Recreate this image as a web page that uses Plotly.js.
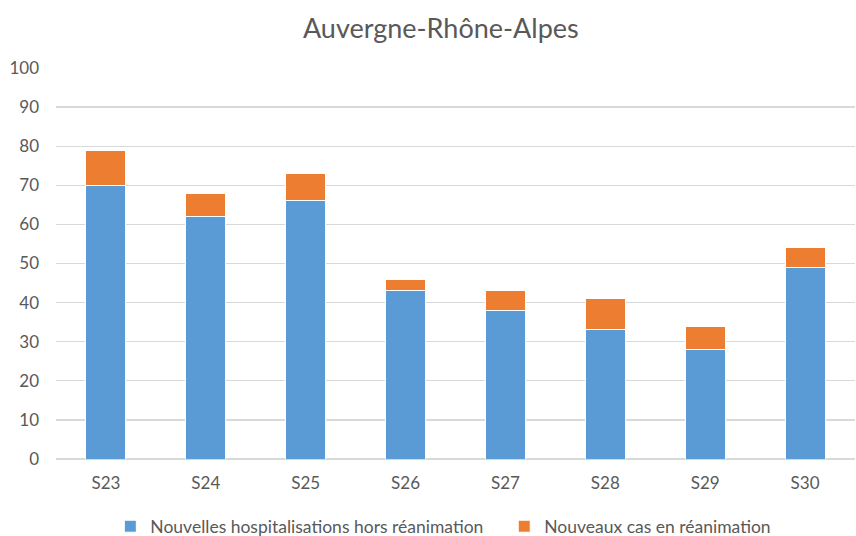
<!DOCTYPE html>
<html>
<head>
<meta charset="utf-8">
<script src="https://cdn.plot.ly/plotly-3.0.1.min.js"></script>
<style>html,body{margin:0;padding:0;background:#fff;}#chart{width:856px;height:536px;}</style>
</head>
<body>
<div id="chart"></div>
<script>
const categories = ["S23","S24","S25","S26","S27","S28","S29","S30"];
const hospitalisations = [70, 62, 66, 43, 38, 33, 28, 49];
const reanimation = [9, 6, 7, 3, 5, 8, 6, 5];
const seriesNames = ["Nouvelles hospitalisations hors réanimation", "Nouveaux cas en réanimation"];
const yTicks = [0,10,20,30,40,50,60,70,80,90,100];

const font = "Lato, 'Open Sans', sans-serif";
const traces = [
  {type:"bar", name:seriesNames[0], x:categories, y:hospitalisations, legend:"legend",
   marker:{color:"#5b9bd5", line:{color:"#ffffff", width:1}}},
  {type:"bar", name:seriesNames[1], x:categories, y:reanimation, legend:"legend2",
   marker:{color:"#ed7d31", line:{color:"#ffffff", width:1}}}
];
const legendBase = {orientation:"h", xanchor:"left", yref:"container", y:0.018, yanchor:"middle",
  font:{family:font, size:17.5, color:"#595959"}, itemwidth:30, bgcolor:"rgba(0,0,0,0)"};
const layout = {
  width:856, height:536,
  barmode:"stack", bargap:0.6,
  paper_bgcolor:"#fff", plot_bgcolor:"#fff",
  margin:{l:56, r:1, t:68, b:77},
  title:{text:"Auvergne-Rhône-Alpes", x:0.515, xanchor:"center", y:0.947, yanchor:"middle",
         font:{family:font, size:27, color:"#595959"}},
  xaxis:{tickfont:{family:font, size:17, color:"#595959"}, showgrid:false, zeroline:false,
         showline:false, ticks:"", fixedrange:true, ticklabelstandoff:12, automargin:false},
  yaxis:{range:[0,100], tickvals:yTicks, ticktext:yTicks.map(String), automargin:false,
         tickfont:{family:font, size:17, color:"#595959"}, gridcolor:"#d9d9d9", gridwidth:1.3,
         zeroline:true, zerolinecolor:"#d9d9d9", zerolinewidth:1.3, showline:false, ticks:"",
         ticklabelstandoff:16},
  legend:Object.assign({}, legendBase, {x:0.068}),
  legend2:Object.assign({}, legendBase, {x:0.561}),
  showlegend:true
};
Plotly.newPlot("chart", traces, layout, {displayModeBar:false, staticPlot:true});
</script>
</body>
</html>
